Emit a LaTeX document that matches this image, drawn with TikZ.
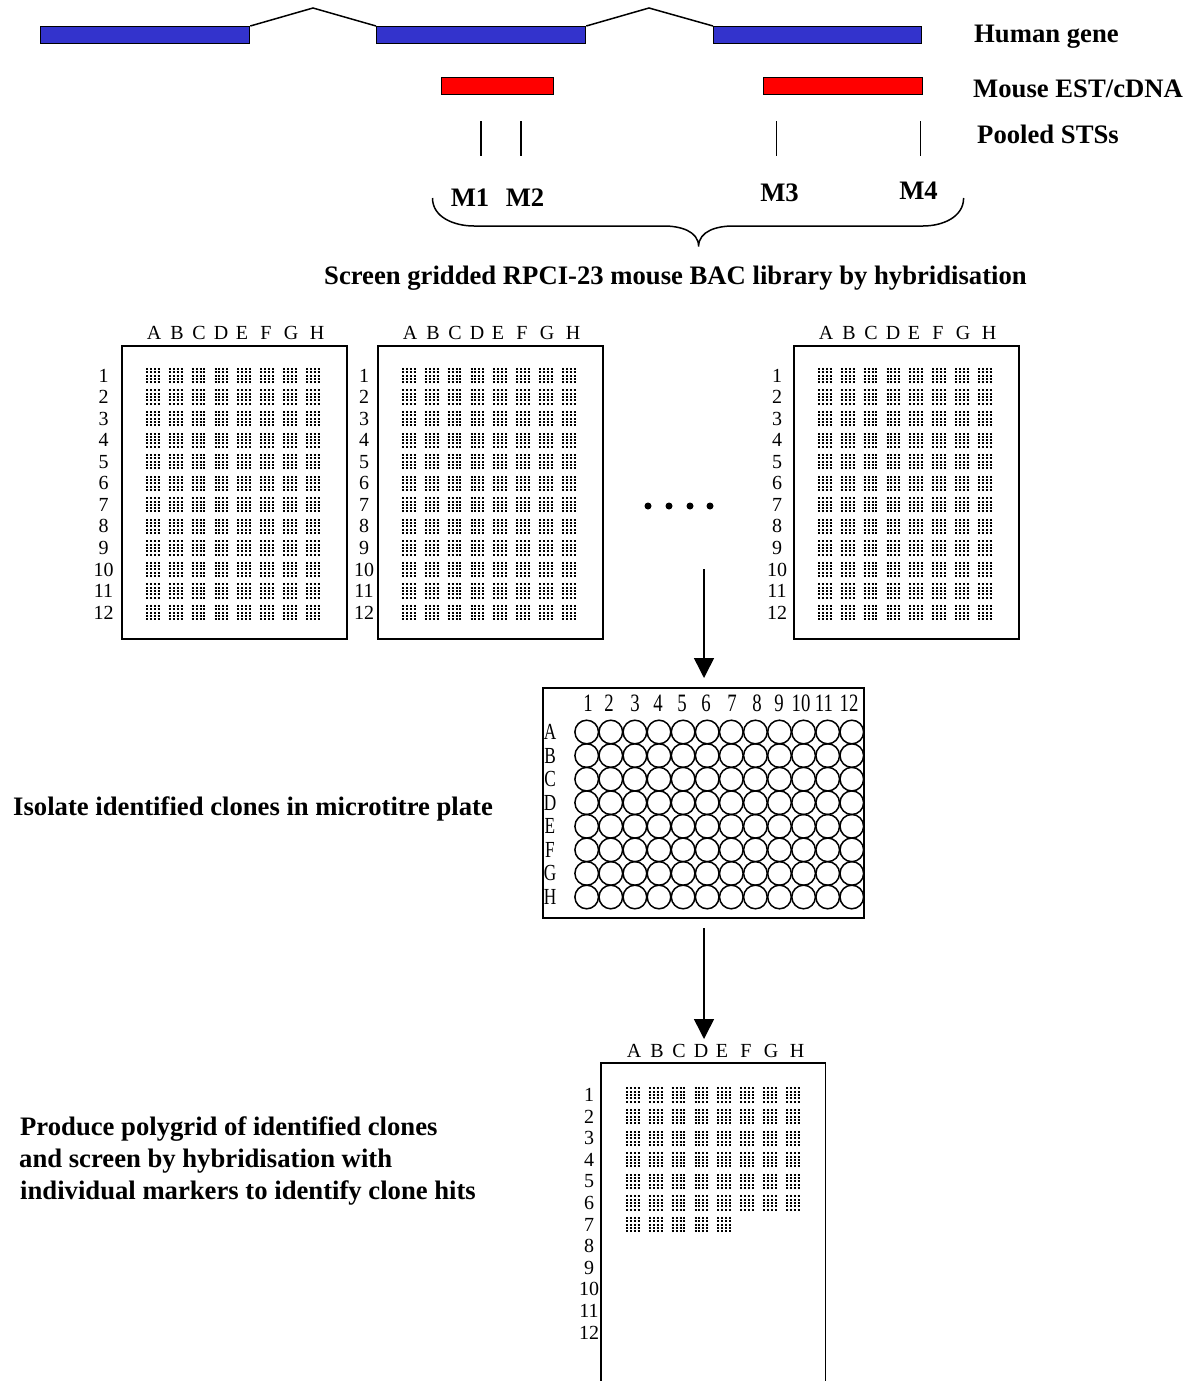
\documentclass[tikz,border=0pt]{standalone}
\usepackage{fontspec}
\usepackage{graphicx}
\setmainfont{Liberation Serif}
\usetikzlibrary{arrows.meta}
\definecolor{geneblue}{RGB}{51,51,204}
\definecolor{estred}{RGB}{255,0,0}
\newcommand\boldlab{\fontsize{26.67}{32}\selectfont\bfseries}
\newcommand\gridlab{\fontsize{20}{24}\selectfont}
\newcommand\numlab{\fontsize{25}{28}\selectfont}
\newcommand\letlab{\fontsize{23}{26}\selectfont}
\newcommand\cond[1]{\scalebox{0.75}[1]{#1}}
% #1 name, #2 left, #3 top, #4 row-label x
\newcommand\gridplate[4]{%
  \node[platebox, minimum width=225, minimum height=293, anchor=north west] (#1) at (#2,#3) {};
  \foreach \l/\dx in {A/33,B/56,C/78,D/100,E/121,F/145,G/170,H/196}
    \node[gridtxt] (#1-\l) at ({#2+\dx},{#3-12}) {\l};
  \foreach \r in {1,...,12}{
    \node[gridtxt] (#1-r\r) at (#4,{#3+30.5+21.55*(\r-1)}) {\r};
    \foreach \k in {-2,...,2}
      \draw[spots] ({#2+25},{#3+30.5+21.55*(\r-1)+3.3*\k}) -- ++(173.7,0);
  }%
}
\begin{document}
\begin{tikzpicture}[x=1pt,y=-1pt,
  bold/.style={font=\boldlab, inner sep=0pt},
  gridtxt/.style={font=\gridlab, inner sep=0pt},
  numtxt/.style={font=\numlab, inner sep=0pt},
  lettxt/.style={font=\letlab, inner sep=0pt},
  exon/.style={draw=black, line width=1.3pt, fill=geneblue, inner sep=0pt, minimum height=17, anchor=north west},
  est/.style={draw=black, line width=1.3pt, fill=estred, inner sep=0pt, minimum height=17, anchor=north west},
  thin/.style={line width=1.5pt},
  platebox/.style={draw=black, line width=1.8pt, inner sep=0pt},
  spots/.style={line width=2.0pt, dash pattern=on 2.0pt off 1.9pt on 2.0pt off 1.9pt on 2.0pt off 1.9pt on 2.0pt off 9.16pt},
  well/.style={draw=black, line width=1.5pt},
  flow/.style={line width=1.5pt, -{Triangle[length=20pt,width=20pt]}},
  bigdot/.style={circle, fill=black, inner sep=0pt, minimum size=7}
]
\useasboundingbox (0,0) rectangle (1198,1381);

% ---------- gene structure ----------
\node[exon, minimum width=209] (ex1) at (40,26) {};
\node[exon, minimum width=209] (ex2) at (376,26) {};
\node[exon, minimum width=208] (ex3) at (713,26) {};
\coordinate (pk1) at (313,8);
\coordinate (pk2) at (649,8);
\draw[thin] (ex1.north east) -- (pk1) -- (ex2.north west);
\draw[thin] (ex2.north east) -- (pk2) -- (ex3.north west);

\node[est, minimum width=112] (est1) at (441,77) {};
\node[est, minimum width=159] (est2) at (763,77) {};

\node[bold, anchor=base west] (lhuman) at (974,43) {Human gene};
\node[bold, anchor=base west] (lmouse) at (973,97) {Mouse EST/cDNA};
\node[bold, anchor=base west] (lsts) at (977,143) {Pooled STSs};

% STS markers
\foreach \n/\x in {1/481,2/521,3/776.5,4/920.5}{
  \coordinate (s\n t) at (\x,121);
  \coordinate (s\n b) at (\x,156);
  \draw[thin] (s\n t) -- (s\n b);
}
\node[bold, anchor=base] (m1) at (470,206) {M1};
\node[bold, anchor=base] (m2) at (525,206) {M2};
\node[bold, anchor=base] (m3) at (779.5,201) {M3};
\node[bold, anchor=base] (m4) at (918.5,199) {M4};

% brace
\coordinate (brL) at (432.5,198);
\coordinate (brM) at (698.6,246.5);
\coordinate (brR) at (963.6,198);
\draw[thin] (brL) to[out=-90,in=180] (474,226) -- (664,226) to[out=0,in=90] (brM)
            (brM) to[out=90,in=180] (733,226) -- (923,226) to[out=0,in=-90] (brR);

\node[bold, anchor=base] (screen) at (675.5,284) {Screen gridded RPCI-23 mouse BAC library by hybridisation};

% ---------- gridded filters ----------
\gridplate{pA}{121}{345}{103.5}
\gridplate{pB}{377}{345}{364}
\gridplate{pC}{793}{345}{777}

\node[bigdot] (d1) at (648,506) {};
\node[bigdot] (d2) at (669,506) {};
\node[bigdot] (d3) at (690,506) {};
\node[bigdot] (d4) at (710,506) {};

% ---------- microtitre plate ----------
\node[platebox, minimum width=321, minimum height=230, anchor=north west] (mtp) at (542,687) {};
\foreach \i in {0,...,11}
  \foreach \j in {0,...,7}
    \draw[well] ({586.7+24.1*\i},{732+23.57*\j}) circle[radius=11.8];
\foreach \n/\x in {1/588,2/609,3/635,4/658,5/682,6/706,7/732,8/757,9/779,10/801,11/824,12/849}
  \node[numtxt] (mc\n) at (\x,703.5) {\cond{\n}};
\foreach \l [count=\j from 0] in {A,B,C,D,E,F,G,H}
  \node[lettxt] (mr\l) at (550,{732+23.57*\j}) {\cond{\l}};

\node[bold, anchor=base west] (liso) at (13,815) {Isolate identified clones in microtitre plate};

% arrows
\coordinate (a1s) at (704,569);
\coordinate (a1e) at (704,678);
\draw[flow] (a1s) -- (a1e);
\coordinate (a2s) at (704,928);
\coordinate (a2e) at (704,1039);
\draw[flow] (a2s) -- (a2e);

% ---------- polygrid ----------
\node[inner sep=0pt, minimum width=224, minimum height=330, anchor=north west] (poly) at (601,1063) {};
\draw[line width=1.8pt] (poly.south west) -- (poly.north west) -- (poly.north east) -- (poly.south east);
\foreach \l/\dx in {A/33,B/56,C/78,D/100,E/121,F/145,G/170,H/196}
  \node[gridtxt] (poly-\l) at ({601+\dx},1051) {\l};
\foreach \r in {1,...,12}
  \node[gridtxt] (poly-r\r) at (589,{1095+21.6*(\r-1)}) {\r};
\foreach \r in {1,...,6}
  \foreach \k in {-2,...,2}
    \draw[spots] (626,{1095+21.6*(\r-1)+3.3*\k}) -- ++(173.7,0);
\foreach \k in {-2,...,2}
  \draw[spots] (626,{1095+21.6*6+3.3*\k}) -- ++(105.2,0);

\node[bold, anchor=base west] (lp1) at (20,1135) {Produce polygrid of identified clones};
\node[bold, anchor=base west] (lp2) at (19,1167) {and screen by hybridisation with};
\node[bold, anchor=base west] (lp3) at (20,1199) {individual markers to identify clone hits};
\end{tikzpicture}
\end{document}
